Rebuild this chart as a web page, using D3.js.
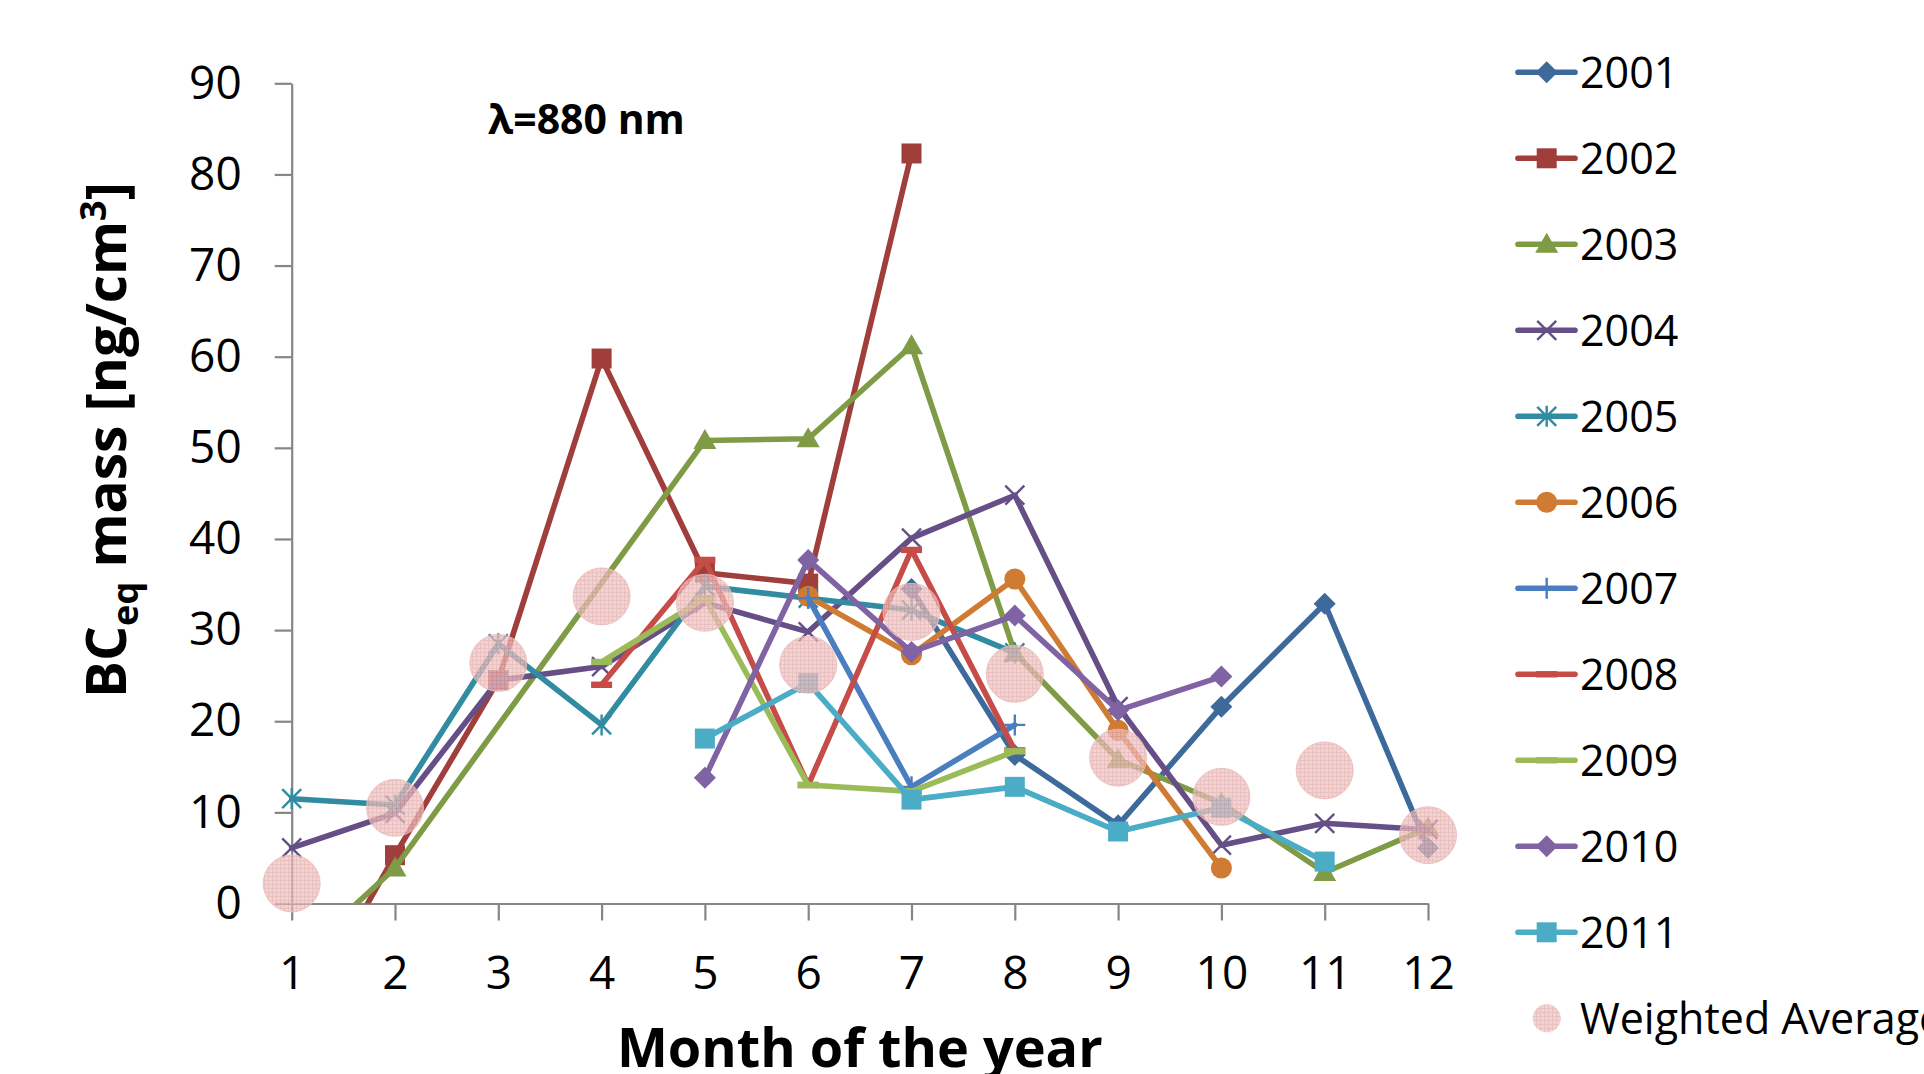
<!DOCTYPE html>
<html>
<head>
<meta charset="utf-8">
<script src="https://cdn.jsdelivr.net/npm/d3@7"></script>
<style>
  body { margin:0; background:#ffffff; }
  svg { display:block; }
</style>
</head>
<body>
<svg id="chart" width="1924" height="1074"></svg>
<script>

// --------------------------------
// data 
// --------------------------------

var months = [1,2,3,4,5,6,7,8,9,10,11,12];
var yTicks = [0,10,20,30,40,50,60,70,80,90];
var years  = ["2001","2002","2003","2004","2005","2006","2007","2008","2009","2010","2011"];

var v2001 = [null,null,null,null,null,null,34.5,16.3,8.6,21.6,32.9,6.1];
var v2002 = [-14.7,5.3,24.5,59.8,36.3,35.1,82.3,null,null,null,null,null];
var v2003 = [-6.6,3.9,null,null,50.8,51.0,61.2,27.5,15.8,11.0,3.4,8.3];
var v2004 = [6.1,9.9,24.5,26.0,33.0,29.8,40.1,44.8,21.6,6.4,8.8,8.1];
var v2005 = [11.5,10.8,28.5,19.6,34.8,33.5,32.2,27.5,null,null,null,null];
var v2006 = [null,null,null,null,null,33.7,27.3,35.6,19.0,3.9,null,null];
var v2007 = [null,null,null,null,null,33.5,12.8,19.6,null,null,null,null];
var v2008 = [null,null,null,24.0,37.7,13.0,38.8,16.8,null,null,null,null];
var v2009 = [null,null,null,26.5,33.5,13.0,12.3,16.7,null,null,null,null];
var v2010 = [null,null,null,null,13.8,37.7,27.6,31.6,21.2,24.9,null,null];
var v2011 = [null,null,null,null,18.1,24.2,11.4,12.8,7.9,10.5,4.6,null];
var vAvg  = [2.2,10.5,26.4,33.7,33.0,26.2,32.0,25.2,16.0,11.7,14.6,7.5];

var seriesValues = [v2001,v2002,v2003,v2004,v2005,v2006,v2007,v2008,v2009,v2010,v2011];
var seriesColors = ["#3d6a9b","#a03e3b","#7f9b45","#654f86","#318ca1","#d07b33",
                    "#4a7ebf","#c54c48","#9bbb59","#7f63a3","#4bacc6"];
var seriesMarker = ["diamond","square","triangle","x","asterisk","circle",
                    "plus","dash","dash","diamond","square"];

// --------------------------------
// helper - marker shapes as path strings
// --------------------------------

var __markerPath = function(szType){
	switch (szType){
		case "diamond":  return "M0,-11L11,0L0,11L-11,0Z";
		case "square":   return "M-10,-10L10,-10L10,10L-10,10Z";
		case "triangle": return "M0,-11.5L11.5,8.5L-11.5,8.5Z";
		case "circle":   return d3.symbol().type(d3.symbolCircle).size(350)();
		case "x":        return "M-9.5,-9.5L9.5,9.5M-9.5,9.5L9.5,-9.5";
		case "asterisk": return "M-9.5,-9.5L9.5,9.5M-9.5,9.5L9.5,-9.5M0,-10.5L0,10.5";
		case "plus":     return "M-10.5,0L10.5,0M0,-10.5L0,10.5";
		case "dash":     return "M-10.5,-3.2L10.5,-3.2L10.5,3.2L-10.5,3.2Z";
	}
	return "";
};
var __isStroked = function(szType){
	return szType=="x" || szType=="asterisk" || szType=="plus";
};

var __drawMarker = function(target,szType,szColor,x,y){
	var m = target.append("path")
		.attr("d", __markerPath(szType))
		.attr("transform","translate("+x+","+y+")");
	if ( __isStroked(szType) ){
		m.attr("style","fill:none;stroke:"+szColor+";stroke-width:2.4;");
	}else{
		m.attr("style","fill:"+szColor+";stroke:none;");
	}
};

// --------------------------------
// scales and axes 
// --------------------------------

var svg = d3.select("#chart");

var x = d3.scaleLinear().domain([1,12]).range([291.7,1428]);
var y = d3.scaleLinear().domain([0,90]).range([903.5,83.3]);

var defs = svg.append("defs");

defs.append("clipPath").attr("id","plotClip")
	.append("rect")
	.attr("x",0).attr("y",0)
	.attr("width",1924).attr("height",y(0));

// hatched pink filling of the weighted average bubbles
var pat = defs.append("pattern")
	.attr("id","avgPattern")
	.attr("patternUnits","userSpaceOnUse")
	.attr("width",4).attr("height",4);
pat.append("rect").attr("width",4).attr("height",4).attr("fill","#eec4c3");
pat.append("path").attr("d","M0,0.5L4,0.5M0.5,0L0.5,4")
	.attr("style","stroke:#e2abab;stroke-width:1;");

var szAxisColor = "#868686";
var szFont = "'Open Sans', 'Liberation Sans', sans-serif";

var yAxis = svg.append("g")
	.attr("transform","translate("+x(1)+",0)")
	.call(d3.axisLeft(y).tickValues(yTicks).tickSize(17).tickPadding(33).tickSizeOuter(0));

var xAxis = svg.append("g")
	.attr("transform","translate(0,"+y(0)+")")
	.call(d3.axisBottom(x).tickValues(months).tickSize(17).tickPadding(36).tickSizeOuter(0));

[yAxis,xAxis].forEach(function(a){
	a.select(".domain").attr("style","stroke:"+szAxisColor+";stroke-width:2.2;");
	a.selectAll(".tick line").attr("style","stroke:"+szAxisColor+";stroke-width:2.2;");
	a.selectAll(".tick text")
		.attr("style","font-family:"+szFont+";font-size:46px;fill:#000000;");
});

// --------------------------------
// the yearly series 
// --------------------------------

var line = d3.line()
	.x(function(d){ return x(d.m); })
	.y(function(d){ return y(d.v); });

seriesValues.forEach(function(values,i){
	// empty months are bridged by the line
	var pts = [];
	values.forEach(function(v,j){
		if ( v !== null ){
			pts.push({m:months[j],v:v});
		}
	});
	var g = svg.append("g");
	g.append("path")
		.datum(pts)
		.attr("clip-path","url(#plotClip)")
		.attr("d", line)
		.attr("style","fill:none;stroke:"+seriesColors[i]+";stroke-width:5.6;stroke-linejoin:round;stroke-linecap:round;");
	pts.forEach(function(p){
		if ( p.v >= 0 ){
			__drawMarker(g,seriesMarker[i],seriesColors[i],x(p.m),y(p.v));
		}
	});
});

// weighted average bubbles on top
svg.append("g").selectAll("circle")
	.data(vAvg)
	.join("circle")
	.attr("cx", function(d,i){ return x(months[i]); })
	.attr("cy", function(d){ return y(d); })
	.attr("r", 28.5)
	.attr("style","fill:url(#avgPattern);fill-opacity:0.74;stroke:#e8bcbc;stroke-width:1;stroke-opacity:0.8;");

// --------------------------------
// texts 
// --------------------------------

svg.append("text")
	.attr("x",488)
	.attr("y",134)
	.attr("style","font-family:"+szFont+";font-size:41px;font-weight:bold;fill:#000000;")
	.text("λ=880 nm");

var yt = svg.append("text")
	.attr("transform","translate(126,440) rotate(-90)")
	.attr("text-anchor","middle")
	.attr("style","font-family:"+szFont+";font-size:55px;font-weight:bold;fill:#000000;");
yt.append("tspan").text("BC");
yt.append("tspan").attr("dy",12).attr("style","font-size:36px;").text("eq");
yt.append("tspan").attr("dy",-12).text(" mass [ng/cm");
yt.append("tspan").attr("dy",-20).attr("style","font-size:36px;").text("3");
yt.append("tspan").attr("dy",20).text("]");

svg.append("text")
	.attr("x",(x(1)+x(12))/2)
	.attr("y",1067)
	.attr("text-anchor","middle")
	.attr("style","font-family:"+szFont+";font-size:54px;font-weight:bold;fill:#000000;")
	.text("Month of the year");

// --------------------------------
// legend 
// --------------------------------

var nLegX = 1518, nLegY = 72.3, nLegStep = 86;
var gLeg = svg.append("g");

years.forEach(function(szYear,i){
	var cy = nLegY + i*nLegStep;
	gLeg.append("line")
		.attr("x1",nLegX).attr("x2",nLegX+57)
		.attr("y1",cy).attr("y2",cy)
		.attr("style","stroke:"+seriesColors[i]+";stroke-width:5.6;stroke-linecap:round;");
	__drawMarker(gLeg,seriesMarker[i],seriesColors[i],nLegX+28.7,cy);
	gLeg.append("text")
		.attr("x",1580).attr("y",cy).attr("dy","0.36em")
		.attr("style","font-family:"+szFont+";font-size:43px;fill:#000000;")
		.text(szYear);
});

var cyAvg = nLegY + years.length*nLegStep;
gLeg.append("circle")
	.attr("cx",nLegX+28.7).attr("cy",cyAvg).attr("r",14)
	.attr("style","fill:url(#avgPattern);fill-opacity:0.74;");
gLeg.append("text")
	.attr("x",1580).attr("y",cyAvg).attr("dy","0.36em")
	.attr("style","font-family:"+szFont+";font-size:43px;fill:#000000;")
	.text("Weighted Average");

</script>
</body>
</html>
